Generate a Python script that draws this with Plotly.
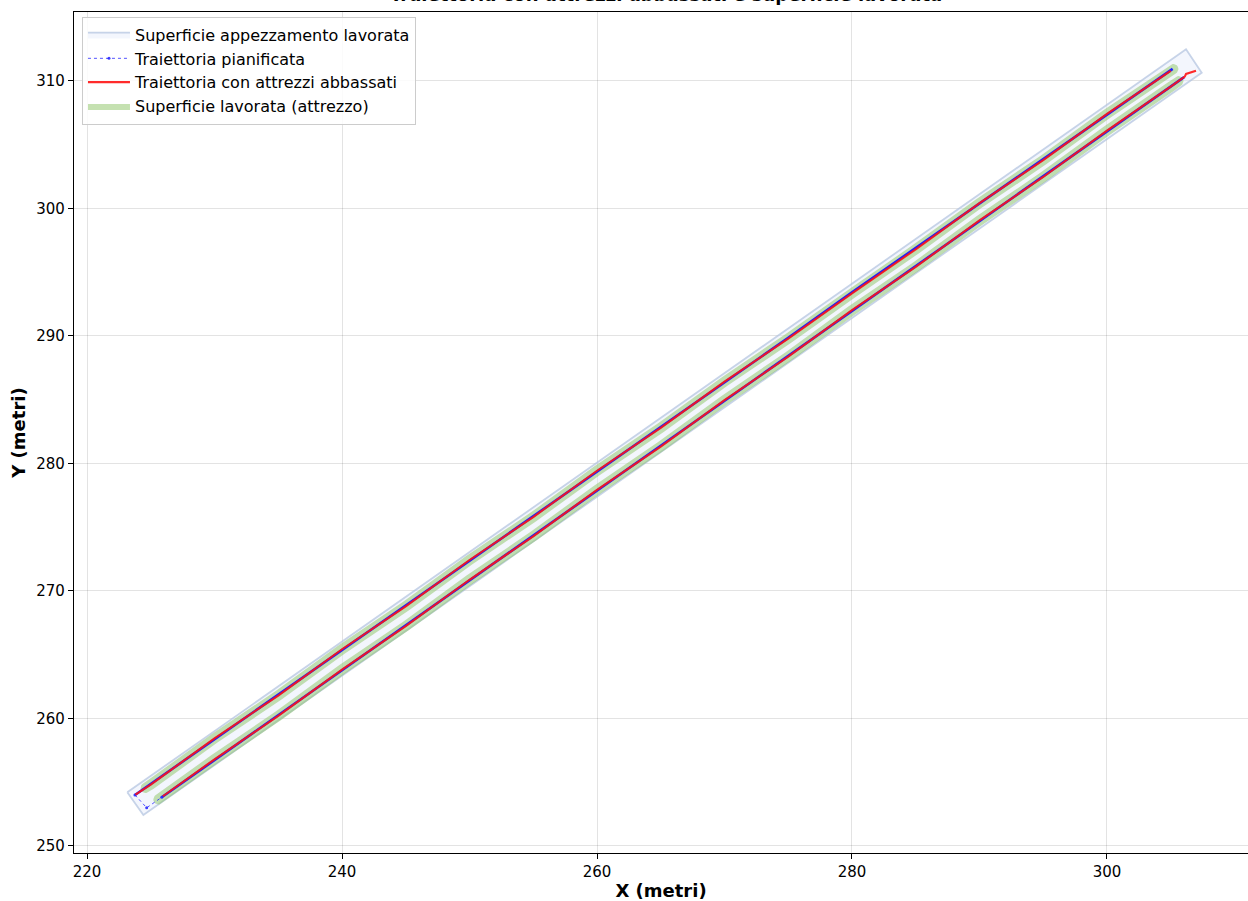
import numpy as np
import plotly.graph_objects as go

# Campo (appezzamento) - poligono del perimetro
campo_x = [223.16, 224.42, 307.43, 306.20, 223.16]
campo_y = [254.21, 252.43, 310.65, 312.49, 254.21]

# Traiettoria pianificata: passata 1, svolta, passata 2
pian1_x = [305.15, 300.0, 295.0, 290.0, 285.0, 280.0, 275.0, 270.0, 265.0, 260.0,
           255.0, 250.0, 245.0, 240.0, 235.0, 230.0, 225.0, 223.76]
pian1_y = [310.95, 307.36, 303.85, 300.36, 296.85, 293.42, 289.86, 286.36, 282.86, 279.37,
           275.86, 272.37, 268.86, 265.37, 261.86, 258.38, 254.88, 254.00]
svolta_x = [223.76, 224.68, 225.86]
svolta_y = [254.00, 253.00, 253.82]
pian2_x = [225.86, 230.0, 235.0, 240.0, 245.0, 250.0, 255.0, 260.0, 265.0, 270.0,
           275.0, 280.0, 285.0, 290.0, 295.0, 300.0, 306.05]
pian2_y = [253.82, 256.74, 260.26, 263.78, 267.30, 270.82, 274.35, 277.87, 281.39, 284.91,
           288.44, 291.96, 295.48, 299.00, 302.53, 306.05, 310.30]

# Traiettoria con attrezzi abbassati (due passate)
att1_x = [223.80, 225.0, 230.0, 235.0, 240.0, 245.0, 250.0, 255.0, 260.0, 265.0,
          270.0, 275.0, 280.0, 285.0, 290.0, 295.0, 300.0, 305.0]
att1_y = [254.02, 254.82, 258.44, 261.80, 265.43, 268.80, 272.43, 275.80, 279.43, 282.80,
          286.42, 289.80, 293.34, 296.80, 300.42, 303.79, 307.42, 310.80]
att2_x = [225.95, 230.0, 235.0, 240.0, 245.0, 250.0, 255.0, 260.0, 265.0, 270.0,
          275.0, 280.0, 285.0, 290.0, 295.0, 300.0, 305.0, 305.70, 306.10, 306.20, 306.98]
att2_y = [253.90, 256.80, 260.20, 263.84, 267.24, 270.88, 274.29, 277.93, 281.33, 284.97,
          288.38, 292.02, 295.42, 299.06, 302.47, 306.11, 309.55, 310.06, 310.34, 310.55, 310.81]

# Larghezza di lavoro dell'attrezzo e tratti lavorati (x inizio, x fine)
larghezza_attrezzo = 0.8
lavorato1_x = (224.6, 305.2)
lavorato2_x = (225.6, 305.6)

FONT = "DejaVu Sans"


def y_su_passata(xs, ys, xv):
    xs = np.asarray(xs, float)
    ys = np.asarray(ys, float)
    if xv <= xs[0]:
        k = (ys[1] - ys[0]) / (xs[1] - xs[0])
        return ys[0] + k * (xv - xs[0])
    if xv >= xs[-1]:
        k = (ys[-1] - ys[-2]) / (xs[-1] - xs[-2])
        return ys[-1] + k * (xv - xs[-1])
    return float(np.interp(xv, xs, ys))


def fascia_lavorata(xs, ys, tratto, w):
    """Poligono della fascia lavorata attorno alla linea centrale, con estremi arrotondati."""
    a, b = tratto
    cx = [a] + [x for x in xs if a < x < b] + [b]
    cy = [y_su_passata(xs, ys, a)] + [y for x, y in zip(xs, ys) if a < x < b] + [y_su_passata(xs, ys, b)]
    c = np.column_stack([cx, cy])
    seg = np.diff(c, axis=0)
    seg = seg / np.linalg.norm(seg, axis=1)[:, None]
    tang = np.vstack([seg[0], (seg[:-1] + seg[1:]) / 2.0, seg[-1]])
    tang = tang / np.linalg.norm(tang, axis=1)[:, None]
    norm = np.column_stack([-tang[:, 1], tang[:, 0]])
    r = w / 2.0
    sx = c + norm * r
    dx = c - norm * r
    th_e = np.arctan2(tang[-1, 1], tang[-1, 0])
    th_s = np.arctan2(tang[0, 1], tang[0, 0])
    ang_e = np.linspace(th_e + np.pi / 2, th_e - np.pi / 2, 15)
    ang_s = np.linspace(th_s - np.pi / 2, th_s - 3 * np.pi / 2, 15)
    cap_e = c[-1] + r * np.column_stack([np.cos(ang_e), np.sin(ang_e)])
    cap_s = c[0] + r * np.column_stack([np.cos(ang_s), np.sin(ang_s)])
    poly = np.vstack([sx, cap_e, dx[::-1], cap_s, sx[:1]])
    return list(poly[:, 0]), list(poly[:, 1])


f1x, f1y = fascia_lavorata(att1_x, att1_y, lavorato1_x, larghezza_attrezzo)
f2x, f2y = fascia_lavorata(att2_x, att2_y, lavorato2_x, larghezza_attrezzo)

fig = go.Figure()

fig.add_trace(go.Scatter(
    x=campo_x, y=campo_y, mode="lines", fill="toself",
    fillcolor="rgba(228,236,250,0.45)",
    line=dict(color="rgba(176,194,222,0.7)", width=1.8),
    name="Superficie appezzamento lavorata", hoverinfo="skip"))

fig.add_trace(go.Scatter(
    x=f1x + [None] + f2x, y=f1y + [None] + f2y, mode="lines", fill="toself",
    fillcolor="rgba(140,196,100,0.5)", line=dict(width=0),
    name="Superficie lavorata (attrezzo)", hoverinfo="skip"))

# passate pianificate (linea continua) e svolta (tratteggiata con punti)
fig.add_trace(go.Scatter(
    x=pian1_x + [None] + pian2_x, y=pian1_y + [None] + pian2_y, mode="lines",
    line=dict(color="rgba(20,20,255,0.95)", width=2.6),
    legendgroup="pian", showlegend=False, hoverinfo="skip"))
fig.add_trace(go.Scatter(
    x=svolta_x, y=svolta_y, mode="lines+markers",
    line=dict(color="rgba(40,40,255,0.8)", width=1, dash="dot"),
    marker=dict(size=3, color="rgba(40,40,255,0.9)"),
    legendgroup="pian", name="Traiettoria pianificata", hoverinfo="skip"))

fig.add_trace(go.Scatter(
    x=att1_x + [None] + att2_x, y=att1_y + [None] + att2_y, mode="lines",
    line=dict(color="rgba(255,20,20,0.9)", width=2.1),
    name="Traiettoria con attrezzi abbassati", hoverinfo="skip"))

# ordine voci legenda
order = {"Superficie appezzamento lavorata": 1, "Traiettoria pianificata": 2,
         "Traiettoria con attrezzi abbassati": 3, "Superficie lavorata (attrezzo)": 4}
for tr in fig.data:
    if tr.name in order:
        tr.legendrank = order[tr.name]

fig.update_layout(
    width=1248, height=901,
    margin=dict(l=74, r=0, t=12, b=48),
    plot_bgcolor="white", paper_bgcolor="white",
    font=dict(family=FONT, size=15, color="black"),
    title=dict(text="<b>Traiettoria con attrezzi abbassati e superficie lavorata</b>",
               font=dict(family=FONT, size=18, color="black"),
               x=0.5043, xref="paper", xanchor="center",
               y=0.9985, yref="container", yanchor="bottom"),
    showlegend=True,
    legend=dict(x=0.0068, y=0.9945, xanchor="left", yanchor="top",
                bgcolor="rgba(255,255,255,0.85)", bordercolor="#cccccc", borderwidth=1,
                font=dict(family=FONT, size=16, color="black"),
                itemwidth=42, tracegroupgap=0),
    xaxis=dict(range=[218.98, 311.06], tickvals=[220, 240, 260, 280, 300],
               showgrid=True, gridcolor="rgba(0,0,0,0.11)", gridwidth=1,
               showline=True, linecolor="black", linewidth=1.2, mirror=True,
               ticks="outside", ticklen=5, tickwidth=1, tickcolor="black",
               tickfont=dict(size=15), zeroline=False,
               title=dict(text="<b>X (metri)</b>", font=dict(size=18), standoff=8)),
    yaxis=dict(range=[249.45, 315.41], tickvals=[250, 260, 270, 280, 290, 300, 310],
               showgrid=True, gridcolor="rgba(0,0,0,0.11)", gridwidth=1,
               showline=True, linecolor="black", linewidth=1.2, mirror=False,
               ticks="outside", ticklen=5, tickwidth=1, tickcolor="black",
               tickfont=dict(size=15), zeroline=False,
               title=dict(text="<b>Y (metri)</b>", font=dict(size=18), standoff=5)),
)

fig.write_html("out.html")
